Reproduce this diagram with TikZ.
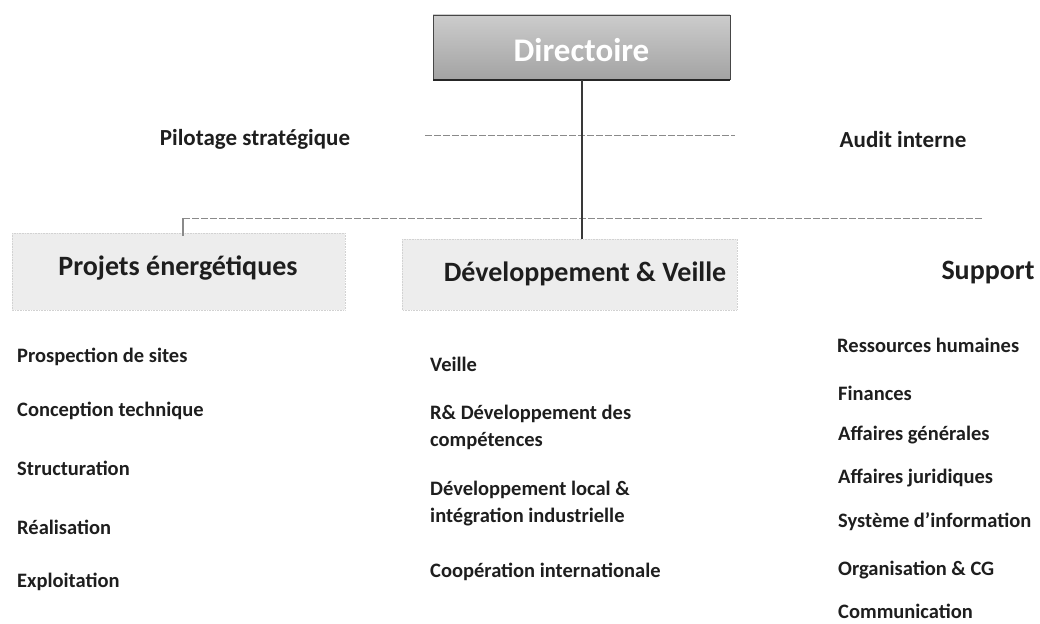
\documentclass[tikz,border=0pt]{standalone}
\usepackage{fontspec}
\setmainfont{Carlito}
\definecolor{ink}{HTML}{1E1E1E}
\definecolor{wire}{HTML}{8A8A8A}
\begin{document}
\begin{tikzpicture}[x=1pt,y=-1pt,
  item/.style={anchor=west, inner sep=0pt, align=left, text=ink,
    font=\fontsize{20.5}{27}\selectfont\bfseries},
  side/.style={inner sep=0pt, text=ink, font=\fontsize{23}{27}\selectfont\bfseries},
  head/.style={inner sep=0pt, text=ink, font=\fontsize{28}{32}\selectfont\bfseries},
  unitbox/.style={fill=gray!14, draw=gray!35, densely dotted, line width=0.6pt},
  bus/.style={draw=wire, line width=0.8pt, dash pattern=on 7pt off 2pt},
  trunk/.style={draw=gray!45!black, line width=1.6pt},
]
\useasboundingbox (0,0) rectangle (1040,623);

% top box
\path[top color=gray!40, bottom color=gray!72, draw=gray!55!black, line width=0.8pt]
  (433,15) rectangle (730,79);
\draw[gray!30!black, line width=2pt] (433,80) -- (730,80);
\node[inner sep=0pt, text=white, font=\fontsize{33}{37}\selectfont\bfseries]
  (dir) at (581.5,50) {Directoire};
\coordinate (dirfoot) at (582,80);

% staff functions beside the trunk
\node[side] (pilot) at (255,139) {Pilotage stratégique};
\node[side] (audit) at (903,140) {Audit interne};
\coordinate (pl) at (425,135);
\coordinate (pr) at (735,135);
\draw[bus] (pl) -- (pr);

% division boxes
\path[unitbox] (12,233) rectangle (345,310);
\path[unitbox] (402,239) rectangle (737,310);
\node[head] (proj) at (178,268) {Projets énergétiques};
\node[head] (dev) at (585,274) {Développement \& Veille};
\node[head] (supp) at (988,273) {Support};
\coordinate (projtop) at (183,236);
\coordinate (devtop) at (582,239);

% connectors
\coordinate (busl) at (183,218);
\coordinate (busr) at (983,218);
\draw[bus] (busl) -- (busr);
\draw[draw=wire, line width=1.2pt] (busl) -- (projtop);
\draw[trunk] (dirfoot) -- (devtop);

% first column
\node[item] (p1) at (17,357) {Prospection de sites};
\node[item] (p2) at (17,411) {Conception technique};
\node[item] (p3) at (17,468) {Structuration};
\node[item] (p4) at (17,527) {Réalisation};
\node[item] (p5) at (17,582) {Exploitation};

% second column
\node[item] (d1) at (430,364) {Veille};
\node[item] (d2) at (430,427) {R\& Développement des\\compétences};
\node[item] (d3) at (430,503.5) {Développement local \&\\intégration industrielle};
\node[item] (d4) at (430,572) {Coopération internationale};

% third column
\node[item] (s1) at (837,345) {Ressources humaines};
\node[item] (s2) at (838,393) {Finances};
\node[item] (s3) at (838,435) {Affaires générales};
\node[item] (s4) at (838,478) {Affaires juridiques};
\node[item] (s5) at (838,522) {Système d’information};
\node[item] (s6) at (838,570) {Organisation \& CG};
\node[item] (s7) at (838,611) {Communication};
\end{tikzpicture}
\end{document}
